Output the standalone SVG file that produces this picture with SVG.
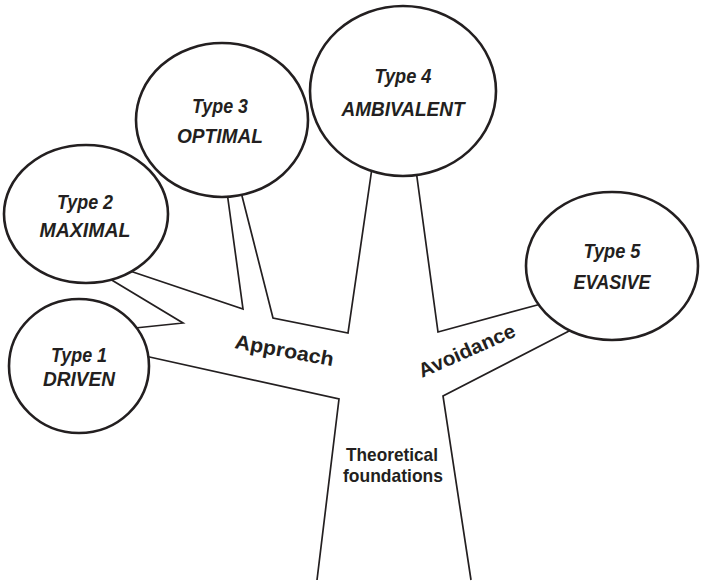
<svg xmlns="http://www.w3.org/2000/svg" width="702" height="585" viewBox="0 0 702 585">
<style>
.bg{fill:#ffffff}
.ln{fill:none;stroke:#231f20;stroke-width:1.7;stroke-linejoin:miter}
.el{fill:#ffffff;stroke:#231f20;stroke-width:2.6}
.lb{font-family:"Liberation Sans",Arial,sans-serif;font-size:21px;font-weight:bold;font-style:italic;fill:#231f20;text-anchor:middle}
.br{font-family:"Liberation Sans",Arial,sans-serif;font-size:20px;font-weight:bold;fill:#231f20}
.tf{font-family:"Liberation Sans",Arial,sans-serif;font-size:18.5px;font-weight:bold;fill:#231f20;text-anchor:middle}
</style>
<rect class="bg" x="0" y="0" width="702" height="585"/>
<g id="connectors">
<polyline class="ln" points="145,356 339,399 317,580"/>
<polyline class="ln" points="110,279 183,323 135,328"/>
<polyline class="ln" points="127,270 243,309 227,192"/>
<polyline class="ln" points="241,192 273,318 348,333 372,168"/>
<polyline class="ln" points="416,170 438,332 541,304"/>
<polyline class="ln" points="571,330 443,396 471,580"/>
</g>
<g id="type1">
<ellipse class="el" cx="79" cy="366" rx="70" ry="67"/>
<text class="lb" x="79" y="362" textLength="56" lengthAdjust="spacingAndGlyphs">Type 1</text>
<text class="lb" x="79" y="386" textLength="72" lengthAdjust="spacingAndGlyphs">DRIVEN</text>
</g>
<g id="type2">
<ellipse class="el" cx="86" cy="214" rx="82" ry="69"/>
<text class="lb" x="85" y="209" textLength="56" lengthAdjust="spacingAndGlyphs">Type 2</text>
<text class="lb" x="85" y="237" textLength="91" lengthAdjust="spacingAndGlyphs">MAXIMAL</text>
</g>
<g id="type3">
<ellipse class="el" cx="222" cy="120" rx="86" ry="77"/>
<text class="lb" x="220" y="113" textLength="56" lengthAdjust="spacingAndGlyphs">Type 3</text>
<text class="lb" x="220" y="143" textLength="86" lengthAdjust="spacingAndGlyphs">OPTIMAL</text>
</g>
<g id="type4">
<ellipse class="el" cx="403" cy="91" rx="93" ry="85"/>
<text class="lb" x="403" y="83" textLength="57" lengthAdjust="spacingAndGlyphs">Type 4</text>
<text class="lb" x="403" y="116" textLength="123" lengthAdjust="spacingAndGlyphs">AMBIVALENT</text>
</g>
<g id="type5">
<ellipse class="el" cx="612" cy="266" rx="86" ry="74"/>
<text class="lb" x="612" y="258" textLength="57" lengthAdjust="spacingAndGlyphs">Type 5</text>
<text class="lb" x="612" y="289" textLength="77" lengthAdjust="spacingAndGlyphs">EVASIVE</text>
</g>
<g id="labels">
<text class="br" transform="translate(234,348) rotate(10.5)" textLength="100" lengthAdjust="spacingAndGlyphs">Approach</text>
<text class="br" transform="translate(422,378) rotate(-24)" textLength="104" lengthAdjust="spacingAndGlyphs">Avoidance</text>
<text class="tf" x="392" y="461" textLength="92" lengthAdjust="spacingAndGlyphs">Theoretical</text>
<text class="tf" x="393" y="482" textLength="100" lengthAdjust="spacingAndGlyphs">foundations</text>
</g>
</svg>
